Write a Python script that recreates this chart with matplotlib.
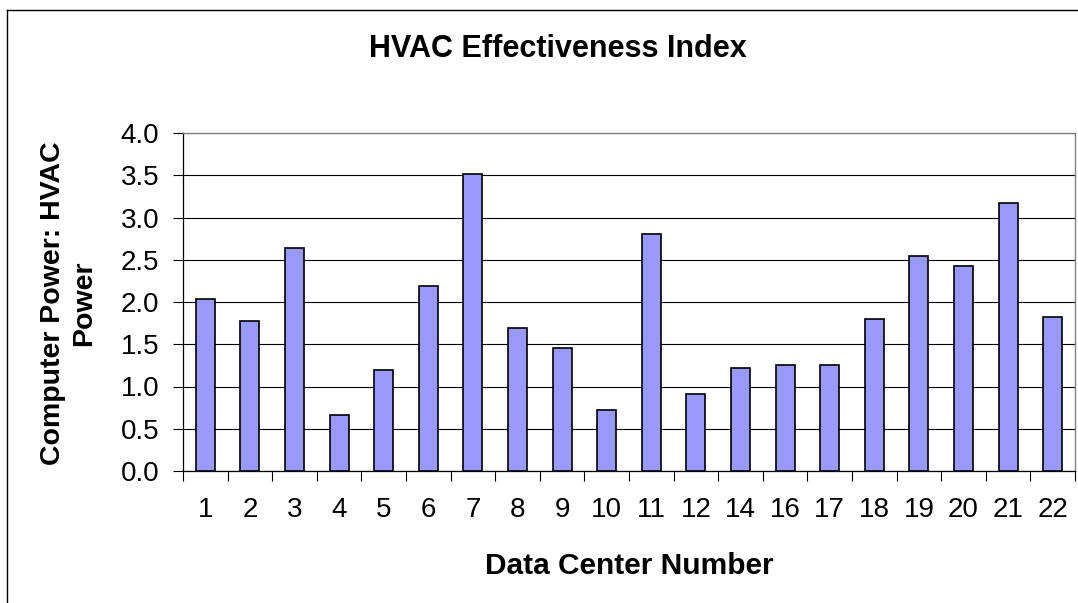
import matplotlib.pyplot as plt
import numpy as np
from matplotlib.lines import Line2D

# data center numbers (13 and 15 are missing in the source)
centers = ['1', '2', '3', '4', '5', '6', '7', '8', '9', '10', '11',
           '12', '14', '16', '17', '18', '19', '20', '21', '22']
ratio = [2.03, 1.77, 2.64, 0.66, 1.20, 2.19, 3.51, 1.69, 1.46, 0.72, 2.81,
         0.91, 1.22, 1.25, 1.25, 1.80, 2.54, 2.43, 3.17, 1.82]
yticks = [0.0, 0.5, 1.0, 1.5, 2.0, 2.5, 3.0, 3.5, 4.0]

plt.rcParams['font.family'] = ['Liberation Sans', 'DejaVu Sans']

fig = plt.figure(figsize=(10.78, 6.03), dpi=100)
ax = fig.add_axes([183/1078, 1 - 471/603, (1075 - 183)/1078, (471 - 133)/603])

x = np.arange(len(centers))
ax.bar(x, ratio, width=0.43, color='#9999ff', edgecolor='black',
       linewidth=1.2, zorder=3)

ax.set_ylim(0, 4)
ax.set_xlim(-0.5, len(centers) - 0.5)
ax.set_yticks(yticks)
ax.set_yticklabels([f'{v:.1f}' for v in yticks], fontsize=20)
ax.yaxis.grid(True, color='black', linewidth=0.8, zorder=0)

ax.set_xticks(x)
ax.set_xticklabels(centers, fontsize=20)
ax.set_xticks(np.arange(-0.5, len(centers)), minor=True)
ax.tick_params(axis='x', which='major', length=0, pad=19)
ax.tick_params(axis='x', which='minor', length=7, width=0.8, direction='out')
ax.tick_params(axis='y', length=7, width=0.8, direction='out', pad=10)

for s in ['top', 'right']:
    ax.spines[s].set_color('#808080')
    ax.spines[s].set_linewidth(1)
ax.spines['left'].set_linewidth(0.9)
ax.spines['bottom'].set_linewidth(0.9)

fig.text(558/1078, 1 - 49/603, 'HVAC Effectiveness Index', fontsize=22,
         fontweight='bold', ha='center', va='center')
fig.text(629/1078, 1 - 566/603, 'Data Center Number', fontsize=21.5,
         fontweight='bold', ha='center', va='center')
fig.text(69/1078, 1 - 303/603, 'Computer Power: HVAC\nPower', fontsize=20.5,
         fontweight='bold', ha='center', va='center', rotation=90,
         multialignment='center', linespacing=1.25)

# chart area border
fig.add_artist(Line2D([7/1078, 7/1078], [0, 1 - 10/603], color='black',
                      linewidth=1, transform=fig.transFigure))
fig.add_artist(Line2D([7/1078, 1], [1 - 10/603, 1 - 10/603], color='black',
                      linewidth=1, transform=fig.transFigure))

fig.savefig('out.png', dpi=100)
